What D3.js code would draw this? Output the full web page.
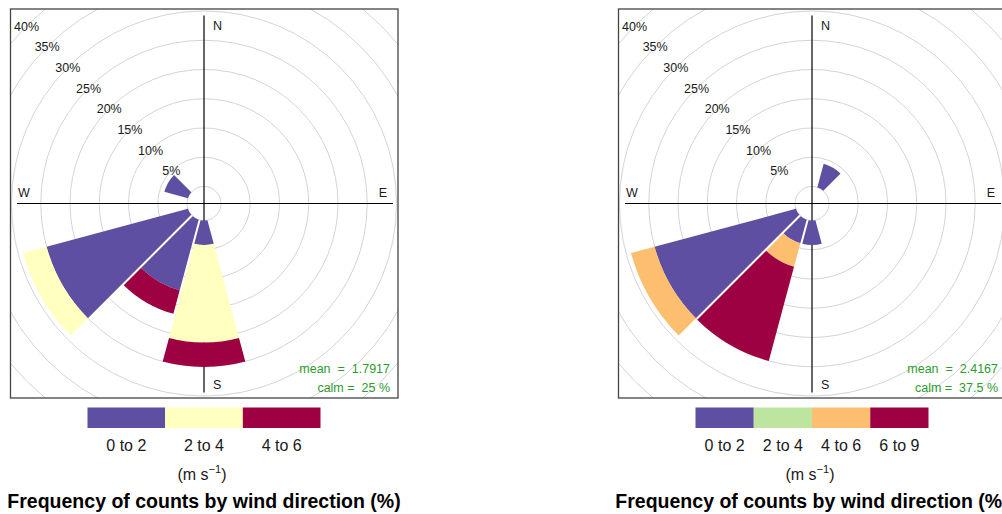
<!DOCTYPE html>
<html>
<head>
<meta charset="utf-8">
<script src="https://cdn.jsdelivr.net/npm/d3@7"></script>
<style>
  html, body { margin: 0; padding: 0; background: #fff; }
  svg { display: block; font-family: "Liberation Sans", Arial, sans-serif; }
</style>
</head>
<body>
<svg id="chart" width="1002" height="514"></svg>
<script>
// Wind direction sectors (degrees, centre of each 30° sector)
const dirsLeft = [180, 210, 240, 300];
const binsLeft = ["0 to 2", "2 to 4", "4 to 6"];
const left0to2 = [4.17, 12.5, 25.0, 4.17];
const left2to4 = [16.67, 0, 4.17, 0];
const left4to6 = [4.17, 4.17, 0, 0];
const coloursLeft = ["#5E4FA2", "#FFFFBF", "#9E0142"];
const meanLeft = "1.7917";
const calmLeft = "25";

const dirsRight = [30, 180, 210, 240];
const binsRight = ["0 to 2", "2 to 4", "4 to 6", "6 to 9"];
const right0to2 = [4.17, 4.17, 4.17, 25.0];
const right2to4 = [0, 0, 0, 0];
const right4to6 = [0, 0, 4.17, 4.17];
const right6to9 = [0, 0, 16.67, 0];
const coloursRight = ["#5E4FA2", "#BEE5A0", "#FDBE6F", "#9E0142"];
const meanRight = "2.4167";
const calmRight = "37.5";

// Frequency rings (%) and their labels
const ringTicks = [5, 10, 15, 20, 25, 30, 35, 40, 45];
const labelTicks = [5, 10, 15, 20, 25, 30, 35, 40];
const ringLabels = ["5%", "10%", "15%", "20%", "25%", "30%", "35%", "40%"];
const compass = [["N", 0], ["E", 90], ["S", 180], ["W", 270]];

const unitsLabel = "(m s";
const titleText = "Frequency of counts by wind direction (%)";

const svg = d3.select("#chart");
const cy = 203.5;
const sectorWidth = 30;
const toRad = Math.PI / 180;

// radial scale: inner (calm) circle radius at 0 %
const r = d3.scaleLinear().domain([0, 45]).range([17, 17 + 45 * 5.85]);

function drawRose(id, cx, dirs, bins, series, colours, meanVal, calmVal) {
  const g = svg.append("g");
  const boxX = cx - 193.5, boxY = cy - 194.5, boxW = 387.5, boxH = 389;

  g.append("clipPath").attr("id", "clip-" + id)
    .append("rect").attr("x", boxX).attr("y", boxY).attr("width", boxW).attr("height", boxH);

  const plot = g.append("g").attr("clip-path", `url(#clip-${id})`);

  // grid circles (including calm circle)
  plot.selectAll("circle.grid")
    .data([0].concat(ringTicks))
    .join("circle")
    .attr("class", "grid")
    .attr("cx", cx).attr("cy", cy)
    .attr("r", d => r(d))
    .attr("fill", "none")
    .attr("stroke", "#d4d4d4")
    .attr("stroke-width", 1);

  // compass cross
  plot.append("line")
    .attr("x1", cx - 187).attr("x2", cx + 189)
    .attr("y1", cy).attr("y2", cy)
    .attr("stroke", "#000").attr("stroke-width", 1.2);
  plot.append("line")
    .attr("x1", cx).attr("x2", cx)
    .attr("y1", cy - 188).attr("y2", cy + 189)
    .attr("stroke", "#000").attr("stroke-width", 1.2);

  // stacked wedges
  const rows = dirs.map((d, i) => {
    const row = { dir: d };
    bins.forEach((b, j) => { row[b] = series[j][i]; });
    return row;
  });
  const stacked = d3.stack().keys(bins)(rows);
  const colour = d3.scaleOrdinal().domain(bins).range(colours);

  const arc = d3.arc()
    .innerRadius(d => r(d[0]))
    .outerRadius(d => r(d[1]))
    .startAngle(d => (d.data.dir - sectorWidth / 2) * toRad)
    .endAngle(d => (d.data.dir + sectorWidth / 2) * toRad)
    .padAngle(0.02)
    .padRadius(100);

  plot.selectAll("g.bin")
    .data(stacked)
    .join("g")
    .attr("class", "bin")
    .attr("fill", s => colour(s.key))
    .selectAll("path")
    .data(s => s.filter(d => d[1] - d[0] > 0))
    .join("path")
    .attr("transform", `translate(${cx},${cy})`)
    .attr("d", arc);

  // ring labels along the NW direction
  plot.selectAll("text.ring")
    .data(labelTicks)
    .join("text")
    .attr("class", "ring")
    .attr("x", d => cx + r(d) * Math.sin(315 * toRad))
    .attr("y", d => cy - r(d) * Math.cos(315 * toRad) + 4.5)
    .attr("text-anchor", "middle")
    .attr("font-size", 12.5)
    .attr("fill", "#1a1a1a")
    .text((d, i) => ringLabels[i]);

  // compass labels
  const compassPos = {
    N: [cx + 9, cy - 173.5, "start"],
    S: [cx + 9, cy + 185.5, "start"],
    W: [cx - 180, cy - 6.5, "middle"],
    E: [cx + 179, cy - 6.5, "middle"]
  };
  plot.selectAll("text.compass")
    .data(compass)
    .join("text")
    .attr("class", "compass")
    .attr("x", d => compassPos[d[0]][0])
    .attr("y", d => compassPos[d[0]][1])
    .attr("text-anchor", d => compassPos[d[0]][2])
    .attr("font-size", 12.5)
    .attr("fill", "#1a1a1a")
    .text(d => d[0]);

  // mean / calm statistics
  plot.append("text")
    .attr("x", cx + 186).attr("y", cy + 169)
    .attr("text-anchor", "end")
    .attr("font-size", 12.5)
    .attr("fill", "#2E9A2E")
    .style("white-space", "pre")
    .text(`mean  =  ${meanVal}`);
  plot.append("text")
    .attr("x", cx + 186).attr("y", cy + 188)
    .attr("text-anchor", "end")
    .attr("font-size", 12.5)
    .attr("fill", "#2E9A2E")
    .style("white-space", "pre")
    .text(`calm =  ${calmVal} %`);

  // panel border
  g.append("rect")
    .attr("x", boxX).attr("y", boxY).attr("width", boxW).attr("height", boxH)
    .attr("fill", "none").attr("stroke", "#444").attr("stroke-width", 1.3);

  // colour key
  const keyW = 233, keyX = cx - keyW / 2;
  const kx = d3.scaleBand().domain(bins).range([keyX, keyX + keyW]);
  const key = svg.append("g");
  key.selectAll("rect")
    .data(bins)
    .join("rect")
    .attr("x", d => kx(d))
    .attr("y", 407.5)
    .attr("width", kx.bandwidth())
    .attr("height", 20.5)
    .attr("fill", d => colour(d));
  key.selectAll("text")
    .data(bins)
    .join("text")
    .attr("x", d => kx(d) + kx.bandwidth() / 2)
    .attr("y", 450.5)
    .attr("text-anchor", "middle")
    .attr("font-size", 16)
    .attr("fill", "#1a1a1a")
    .text(d => d);

  const units = key.append("text")
    .attr("x", cx - 2)
    .attr("y", 480)
    .attr("text-anchor", "middle")
    .attr("font-size", 16)
    .attr("fill", "#1a1a1a");
  units.append("tspan").text(unitsLabel);
  units.append("tspan").attr("dy", -7).attr("font-size", 11).text("\u22121");
  units.append("tspan").attr("dy", 7).text(")");

  svg.append("text")
    .attr("x", cx)
    .attr("y", 508)
    .attr("text-anchor", "middle")
    .attr("font-size", 19.5)
    .attr("font-weight", "bold")
    .attr("fill", "#000")
    .text(titleText);
}

drawRose("left", 204, dirsLeft, binsLeft, [left0to2, left2to4, left4to6], coloursLeft, meanLeft, calmLeft);
drawRose("right", 812, dirsRight, binsRight, [right0to2, right2to4, right4to6, right6to9], coloursRight, meanRight, calmRight);
</script>
</body>
</html>
